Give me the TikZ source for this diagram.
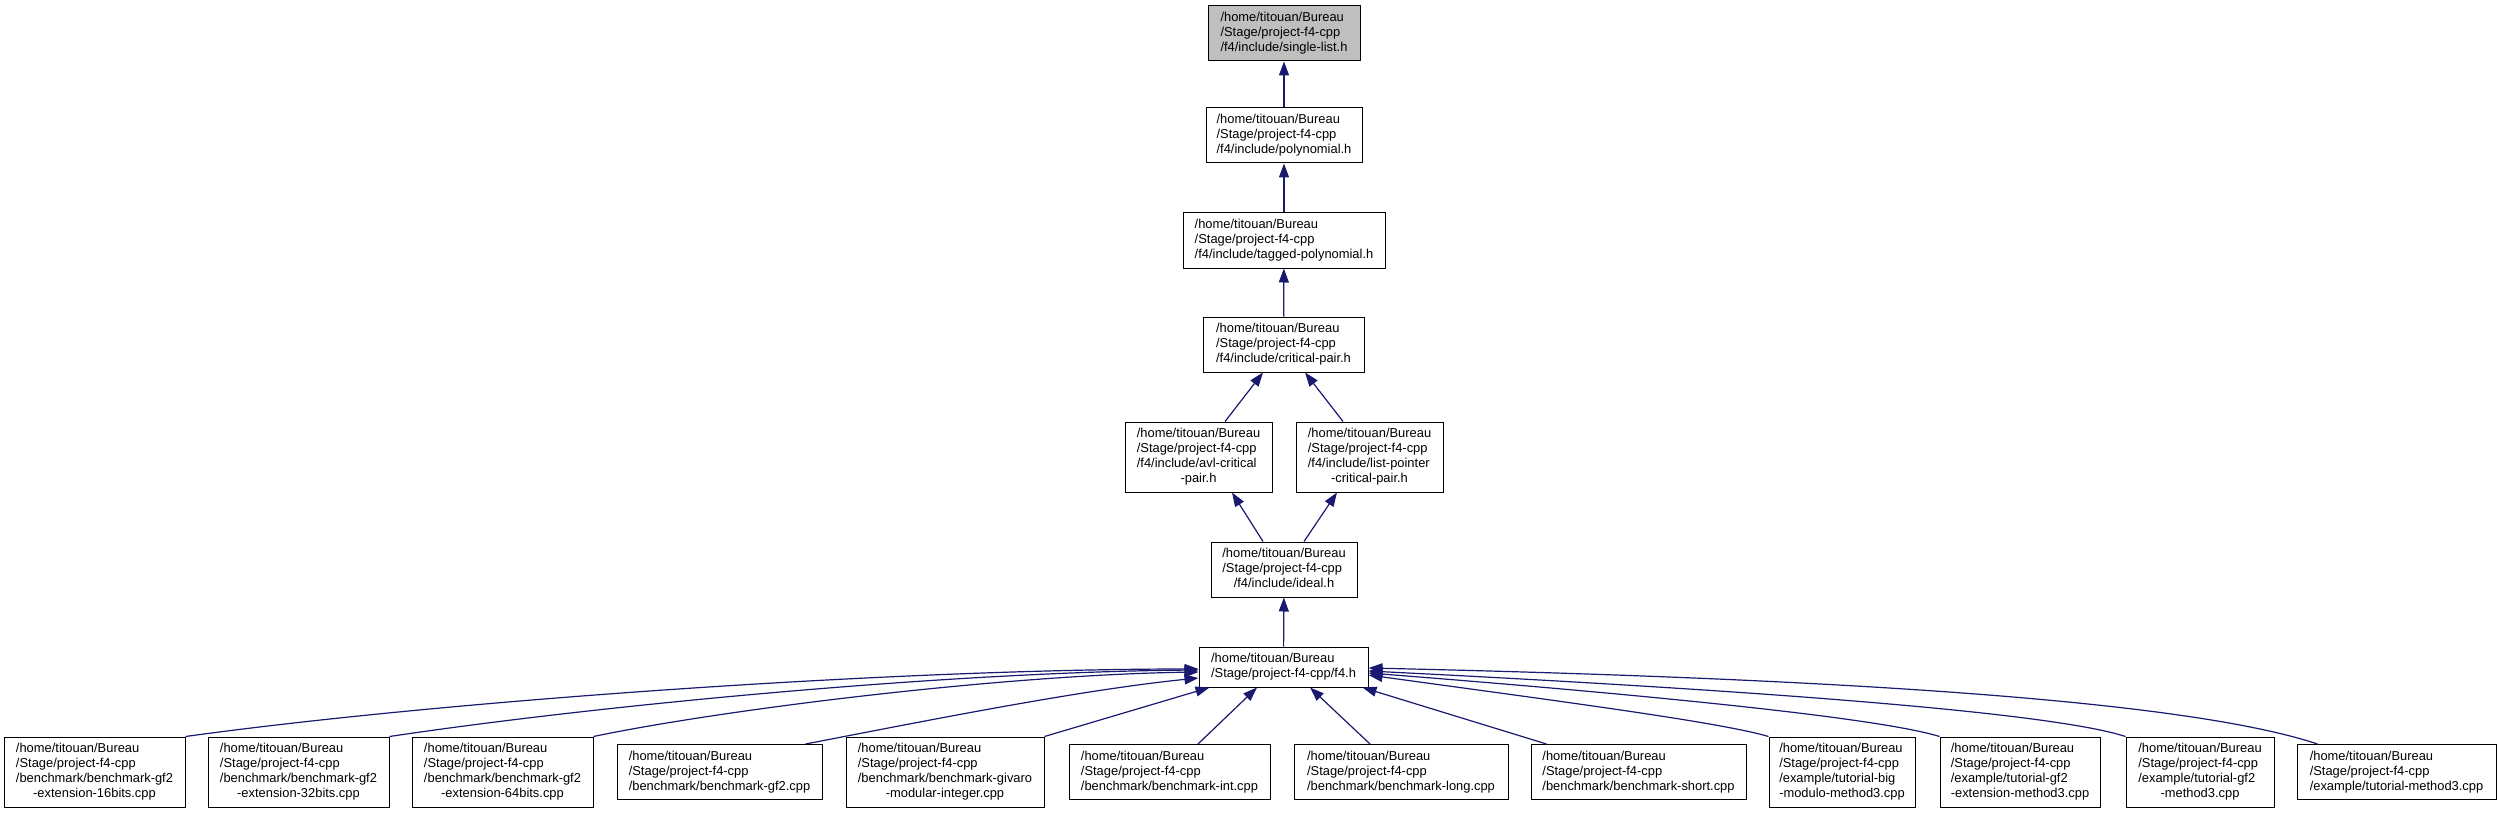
\documentclass[tikz,border=0pt]{standalone}
\usepackage{fontspec}
\setmainfont{Liberation Sans}
\usetikzlibrary{arrows.meta,calc}
\definecolor{edgeblue}{HTML}{191970}
\definecolor{rootgray}{HTML}{BFBFBF}
\newcommand{\flab}[2]{\begin{tabular}{@{}l@{}}#1\\\multicolumn{1}{@{}c@{}}{#2}\end{tabular}}
\begin{document}
\begin{tikzpicture}[x=1pt,y=-1pt,
  fbox/.style={draw=black, line width=1pt, fill=white, inner sep=0pt, font=\fontsize{12.9}{15}\selectfont},
  three/.style={fbox, minimum height=55pt},
  four/.style={fbox, minimum height=70pt},
  two/.style={fbox, minimum height=40pt},
  edge/.style={draw=edgeblue, line width=1.2pt, -{Triangle[length=14pt,width=10pt]}}]
\fill[white] (0,0) rectangle (2500,813);
\useasboundingbox (0,0) rectangle (2500,813);

% upper chain
\node[three, fill=rootgray, minimum width=152pt] (single) at (1284,33.5)
  {\flab{/home/titouan/Bureau\\/Stage/project-f4-cpp}{/f4/include/single-list.h}};
\node[three, minimum width=156pt] (poly) at (1284,135.5)
  {\flab{/home/titouan/Bureau\\/Stage/project-f4-cpp}{/f4/include/polynomial.h}};
\node[three, minimum width=202pt] (tagged) at (1284,240.5)
  {\flab{/home/titouan/Bureau\\/Stage/project-f4-cpp}{/f4/include/tagged-polynomial.h}};
\node[three, minimum width=161pt] (crit) at (1283.5,344.5)
  {\flab{/home/titouan/Bureau\\/Stage/project-f4-cpp}{/f4/include/critical-pair.h}};
\node[four, minimum width=147pt] (avl) at (1198.5,457)
  {\flab{/home/titouan/Bureau\\/Stage/project-f4-cpp\\/f4/include/avl-critical}{-pair.h}};
\node[four, minimum width=147pt] (listp) at (1369.5,457)
  {\flab{/home/titouan/Bureau\\/Stage/project-f4-cpp\\/f4/include/list-pointer}{-critical-pair.h}};
\node[three, minimum width=146pt] (ideal) at (1284,569.5)
  {\flab{/home/titouan/Bureau\\/Stage/project-f4-cpp}{/f4/include/ideal.h}};
\node[two, minimum width=169pt] (f4) at (1283.5,667)
  {\flab{/home/titouan/Bureau}{/Stage/project-f4-cpp/f4.h}};

% bottom row
\node[four, minimum width=181pt] (b1) at (94.5,772)
  {\flab{/home/titouan/Bureau\\/Stage/project-f4-cpp\\/benchmark/benchmark-gf2}{-extension-16bits.cpp}};
\node[four, minimum width=181pt] (b2) at (298.5,772)
  {\flab{/home/titouan/Bureau\\/Stage/project-f4-cpp\\/benchmark/benchmark-gf2}{-extension-32bits.cpp}};
\node[four, minimum width=181pt] (b3) at (502.5,772)
  {\flab{/home/titouan/Bureau\\/Stage/project-f4-cpp\\/benchmark/benchmark-gf2}{-extension-64bits.cpp}};
\node[three, minimum width=205pt] (b4) at (719.5,772)
  {\flab{/home/titouan/Bureau\\/Stage/project-f4-cpp}{/benchmark/benchmark-gf2.cpp}};
\node[four, minimum width=198pt] (b5) at (945,772)
  {\flab{/home/titouan/Bureau\\/Stage/project-f4-cpp\\/benchmark/benchmark-givaro}{-modular-integer.cpp}};
\node[three, minimum width=201pt] (b6) at (1169.5,772)
  {\flab{/home/titouan/Bureau\\/Stage/project-f4-cpp}{/benchmark/benchmark-int.cpp}};
\node[three, minimum width=214pt] (b7) at (1401,772)
  {\flab{/home/titouan/Bureau\\/Stage/project-f4-cpp}{/benchmark/benchmark-long.cpp}};
\node[three, minimum width=215pt] (b8) at (1638.5,772)
  {\flab{/home/titouan/Bureau\\/Stage/project-f4-cpp}{/benchmark/benchmark-short.cpp}};
\node[four, minimum width=146pt] (b9) at (1842,772)
  {\flab{/home/titouan/Bureau\\/Stage/project-f4-cpp\\/example/tutorial-big}{-modulo-method3.cpp}};
\node[four, minimum width=160pt] (b10) at (2020,772)
  {\flab{/home/titouan/Bureau\\/Stage/project-f4-cpp\\/example/tutorial-gf2}{-extension-method3.cpp}};
\node[four, minimum width=148pt] (b11) at (2200,772)
  {\flab{/home/titouan/Bureau\\/Stage/project-f4-cpp\\/example/tutorial-gf2}{-method3.cpp}};
\node[three, minimum width=199pt] (b12) at (2396.5,772)
  {\flab{/home/titouan/Bureau\\/Stage/project-f4-cpp}{/example/tutorial-method3.cpp}};

% upper edges
\draw[edge] (poly) -- (single);
\draw[edge] (tagged) -- (poly);
\draw[edge] (crit) -- (tagged);
\draw[edge] ($(avl.north)+(26.5,0)$) -- ($(crit.south)+(-20.5,0)$);
\draw[edge] ($(listp.north)+(-26.5,0)$) -- ($(crit.south)+(21.5,0)$);
\draw[edge] ($(ideal.north)+(-21,0)$) -- ($(avl.south)+(33.5,0)$);
\draw[edge] ($(ideal.north)+(20,0)$) -- ($(listp.south)+(-32.5,0)$);
\draw[edge] (f4) -- (ideal);

% bottom edges, left side
\draw[edge] (b1.north east) .. controls (450,700) and (900,669) .. ($(f4.west)+(0,2)$);
\draw[edge] (b2.north east) .. controls (600,705) and (950,672) .. ($(f4.west)+(0,3)$);
\draw[edge] (b3.north east) .. controls (720,710) and (1000,675) .. ($(f4.west)+(0,5)$);
\draw[edge] ($(b4.north east)+(-17,0)$) .. controls (930,720) and (1080,690) .. ($(f4.west)+(0,11)$);
\draw[edge] (b5.north east) -- ($(f4.south west)+(11,0)$);
\draw[edge] ($(b6.north)+(28.5,0)$) -- ($(f4.south)+(-26.5,0)$);
\draw[edge] ($(b7.north)+(-31,0)$) -- ($(f4.south)+(26.5,0)$);
\draw[edge] ($(b8.north west)+(16,0)$) -- ($(f4.south east)+(-6,0)$);

% bottom edges, right side
\draw[edge] (b9.north west) .. controls (1720,722) and (1550,700) .. ($(f4.east)+(0,8)$);
\draw[edge] (b10.north west) .. controls (1880,718) and (1650,695) .. ($(f4.east)+(0,6)$);
\draw[edge] (b11.north west) .. controls (2050,712) and (1750,690) .. ($(f4.east)+(0,4)$);
\draw[edge] ($(b12.north west)+(21,0)$) .. controls (2200,705) and (1900,680) .. ($(f4.east)+(0,1)$);
\end{tikzpicture}
\end{document}
